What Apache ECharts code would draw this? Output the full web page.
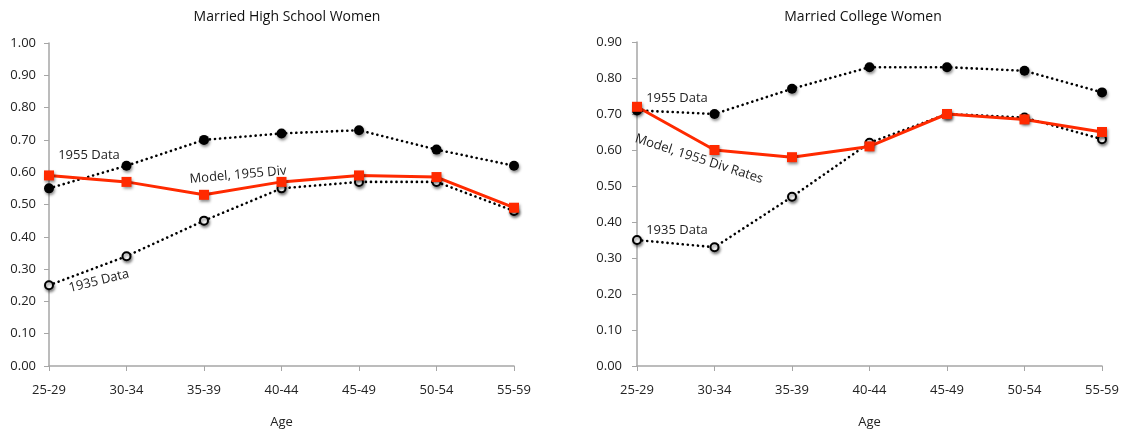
<!DOCTYPE html>
<html>
<head>
<meta charset="utf-8">
<script src="https://cdn.jsdelivr.net/npm/echarts@6/dist/echarts.min.js"></script>
<style>html,body{margin:0;padding:0;background:#fff;}#c{width:1125px;height:434px;}</style>
</head>
<body>
<div id="c"></div>
<script>
const categories = ['25-29','30-34','35-39','40-44','45-49','50-54','55-59'];

const hsData1955  = [0.55, 0.62, 0.70, 0.72, 0.73, 0.67, 0.62];
const hsModel     = [0.59, 0.57, 0.53, 0.57, 0.59, 0.585, 0.49];
const hsData1935  = [0.25, 0.34, 0.45, 0.55, 0.57, 0.57, 0.48];

const colData1955 = [0.71, 0.70, 0.77, 0.83, 0.83, 0.82, 0.76];
const colModel    = [0.72, 0.60, 0.58, 0.61, 0.70, 0.685, 0.65];
const colData1935 = [0.35, 0.33, 0.47, 0.62, 0.70, 0.69, 0.63];

const titles = ['Married High School Women', 'Married College Women'];
const xName = 'Age';

const FONT = '"Open Sans", Lato, sans-serif';
const AXC = '#a6a6a6';
const RED = '#ff2a00';
const shadow = {shadowBlur: 3, shadowColor: 'rgba(0,0,0,0.45)', shadowOffsetX: 1, shadowOffsetY: 2};
const dotted = {color: '#000', width: 2.6, type: [0.1, 5], cap: 'round'};

function xAxis(gi) {
  return {
    type: 'category', gridIndex: gi, data: categories, boundaryGap: false,
    axisLine: {lineStyle: {color: AXC, width: 1.5}},
    axisTick: {alignWithLabel: true, length: 5, lineStyle: {color: AXC}},
    axisLabel: {color: '#222', fontFamily: FONT, fontSize: 13, margin: 18},
    name: xName, nameLocation: 'middle', nameGap: 50,
    nameTextStyle: {color: '#222', fontFamily: FONT, fontSize: 13}
  };
}
function yAxis(gi, max, margin) {
  return {
    type: 'value', gridIndex: gi, min: 0, max: max, interval: 0.1,
    axisLine: {show: true, lineStyle: {color: AXC, width: 1.5}},
    axisTick: {show: true, length: 5, lineStyle: {color: AXC}},
    splitLine: {show: false},
    axisLabel: {color: '#222', fontFamily: FONT, fontSize: 13, margin: margin,
      formatter: v => v.toFixed(2)}
  };
}
function series(gi, d55, model, d35) {
  return [
    {type: 'line', xAxisIndex: gi, yAxisIndex: gi, data: d35, symbol: 'emptyCircle', symbolSize: 8,
     itemStyle: Object.assign({color: '#000', borderColor: '#000', borderWidth: 1.6}, shadow),
     lineStyle: dotted, z: 2},
    {type: 'line', xAxisIndex: gi, yAxisIndex: gi, data: d55, symbol: 'circle', symbolSize: 10,
     itemStyle: Object.assign({color: '#000'}, shadow),
     lineStyle: dotted, z: 3},
    {type: 'line', xAxisIndex: gi, yAxisIndex: gi, data: model, symbol: 'rect', symbolSize: 10,
     itemStyle: Object.assign({color: RED}, shadow),
     lineStyle: {color: RED, width: 3}, z: 4}
  ];
}
function note(text, x, y, rot) {
  return {type: 'text', x: x, y: y, rotation: rot * Math.PI / 180, z: 10,
    style: {text: text, fill: '#222', font: '13px ' + FONT, align: 'center', verticalAlign: 'middle'}};
}

const chart = echarts.init(document.getElementById('c'), null, {renderer: 'canvas'});
chart.setOption({
  animation: false,
  backgroundColor: '#fff',
  title: [
    {text: titles[0], left: 282, top: 5, textAlign: 'center',
     textStyle: {fontFamily: FONT, fontSize: 14, fontWeight: 'normal', color: '#111'}},
    {text: titles[1], left: 858, top: 5, textAlign: 'center',
     textStyle: {fontFamily: FONT, fontSize: 14, fontWeight: 'normal', color: '#111'}}
  ],
  grid: [
    {left: 49, right: 611, top: 43, bottom: 66, containLabel: false},
    {left: 637, right: 23, top: 42, bottom: 67, containLabel: false}
  ],
  xAxis: [xAxis(0), xAxis(1)],
  yAxis: [yAxis(0, 1, 13), yAxis(1, 0.9, 15)],
  series: [].concat(series(0, hsData1955, hsModel, hsData1935),
                    series(1, colData1955, colModel, colData1935)),
  graphic: [
    note('1955 Data', 89, 155, 0),
    note('Model, 1955 Div', 238, 175, 5),
    note('1935 Data', 99, 281, 14),
    note('1955 Data', 677, 98, 0),
    note('Model, 1955 Div Rates', 699, 159, -18),
    note('1935 Data', 677, 230, 0)
  ]
});
</script>
</body>
</html>
